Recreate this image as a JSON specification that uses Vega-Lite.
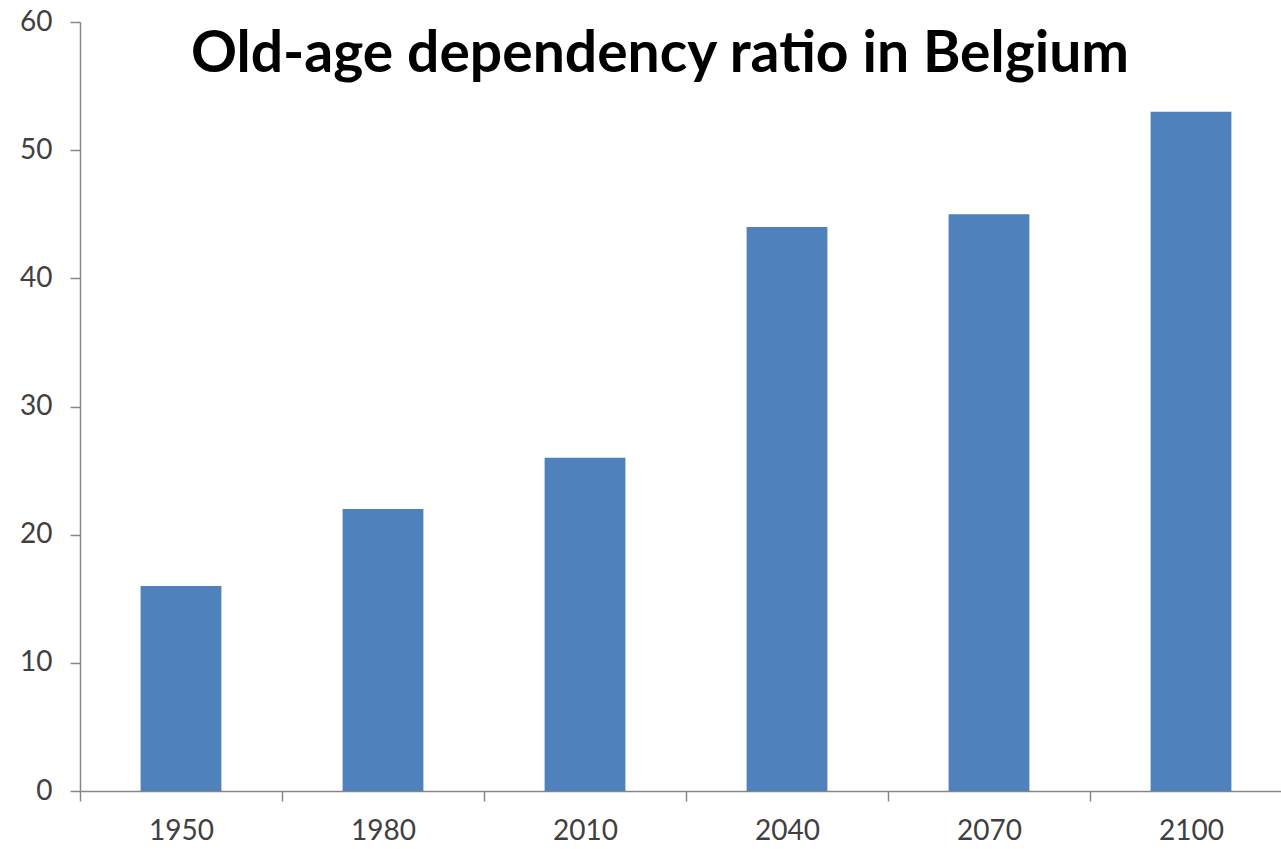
{
  "$schema": "https://vega.github.io/schema/vega-lite/v6.json",
  "autosize": {"type": "none"},
  "width": 1212,
  "height": 769,
  "padding": {"left": 80, "top": 22, "right": 0, "bottom": 58},
  "background": "white",
  "title": {
    "text": "Old-age dependency ratio in Belgium",
    "font": "Lato",
    "fontSize": 57,
    "fontWeight": "bold",
    "color": "#000000",
    "anchor": "middle",
    "frame": "group",
    "dx": -26,
    "dy": 76,
    "offset": 0
  },
  "data": {
    "values": [
      {"year": "1950", "ratio": 16},
      {"year": "1980", "ratio": 22},
      {"year": "2010", "ratio": 26},
      {"year": "2040", "ratio": 44},
      {"year": "2070", "ratio": 45},
      {"year": "2100", "ratio": 53}
    ]
  },
  "mark": {"type": "bar", "color": "#4F81BD", "width": {"band": 0.4}},
  "encoding": {
    "x": {
      "field": "year",
      "type": "ordinal",
      "sort": null,
      "scale": {"paddingInner": 0, "paddingOuter": 0},
      "axis": {
        "title": null,
        "labelAngle": 0,
        "labelFont": "Lato",
        "labelFontSize": 28,
        "labelColor": "#404040",
        "labelPadding": 16,
        "domainColor": "#868686",
        "tickColor": "#868686",
        "tickSize": 10,
        "tickBand": "extent",
        "domainWidth": 1.5,
        "tickWidth": 1.5
      }
    },
    "y": {
      "field": "ratio",
      "type": "quantitative",
      "scale": {"domain": [0, 60], "nice": false},
      "axis": {
        "title": null,
        "values": [0, 10, 20, 30, 40, 50, 60],
        "grid": false,
        "labelFont": "Lato",
        "labelFontSize": 28,
        "labelColor": "#404040",
        "labelPadding": 18,
        "domainColor": "#868686",
        "tickColor": "#868686",
        "tickSize": 10,
        "domainWidth": 1.5,
        "tickWidth": 1.5
      }
    }
  },
  "config": {"view": {"stroke": null}}
}
